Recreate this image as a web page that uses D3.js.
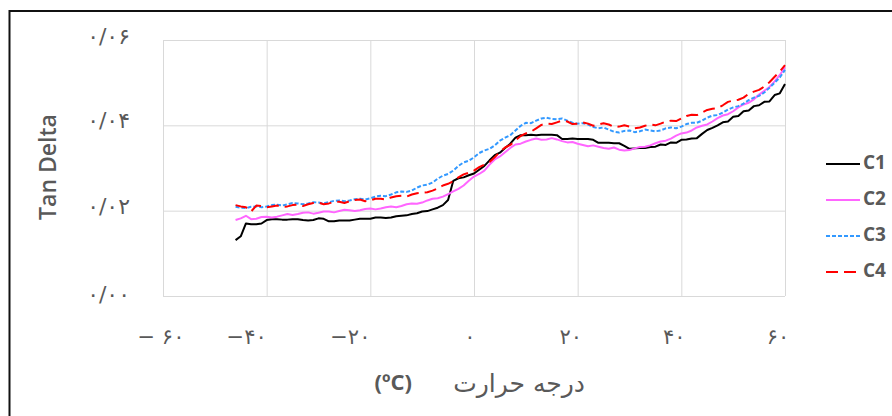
<!DOCTYPE html>
<html><head><meta charset="utf-8">
<script src="https://cdn.jsdelivr.net/npm/d3@7/dist/d3.min.js"></script>
<style>
html,body{margin:0;padding:0;background:#fff;}
svg{display:block;}
</style></head>
<body>
<svg id="chart" width="892" height="416"></svg>
<script>
// ---- data ----
const temps = [
 -46,-45,-44,-43,-42,-41,-40,-39,-38,-37,
 -36,-35,-34,-33,-32,-31,-30,-29,-28,-27,
 -26,-25,-24,-23,-22,-21,-20,-19,-18,-17,
 -16,-15,-14,-13,-12,-11,-10,-9,-8,-7,
 -6,-5,-4,-3,-2,-1,0,1,2,3,
 4,5,6,7,8,9,10,11,12,13,
 14,15,16,17,18,19,20,21,22,23,
 24,25,26,27,28,29,30,31,32,33,
 34,35,36,37,38,39,40,41,42,43,
 44,45,46,47,48,49,50,51,52,53,
 54,55,56,57,58,59,60];
const c1 = [
 0.0131,0.0140,0.0170,0.0168,0.0168,0.0170,0.0178,0.0180,0.0180,0.0179,
 0.0179,0.0180,0.0180,0.0178,0.0177,0.0178,0.0182,0.0181,0.0175,0.0175,
 0.0177,0.0177,0.0177,0.0179,0.0181,0.0181,0.0181,0.0184,0.0184,0.0183,
 0.0184,0.0187,0.0188,0.0189,0.0192,0.0194,0.0198,0.0199,0.0203,0.0207,
 0.0213,0.0225,0.0270,0.0276,0.0278,0.0283,0.0287,0.0296,0.0305,0.0318,
 0.0330,0.0336,0.0347,0.0357,0.0371,0.0377,0.0377,0.0378,0.0377,0.0378,
 0.0378,0.0378,0.0377,0.0368,0.0368,0.0369,0.0368,0.0368,0.0368,0.0366,
 0.0359,0.0359,0.0359,0.0358,0.0358,0.0352,0.0345,0.0346,0.0347,0.0347,
 0.0349,0.0350,0.0355,0.0354,0.0360,0.0359,0.0366,0.0367,0.0369,0.0370,
 0.0380,0.0389,0.0394,0.0400,0.0407,0.0409,0.0420,0.0422,0.0433,0.0435,
 0.0445,0.0447,0.0455,0.0456,0.0471,0.0475,0.0497];
const c2 = [
 0.0178,0.0182,0.0188,0.0180,0.0181,0.0185,0.0186,0.0184,0.0186,0.0189,
 0.0192,0.0190,0.0192,0.0195,0.0196,0.0193,0.0195,0.0198,0.0198,0.0196,
 0.0199,0.0202,0.0201,0.0199,0.0201,0.0204,0.0205,0.0203,0.0205,0.0208,
 0.0210,0.0208,0.0211,0.0215,0.0217,0.0216,0.0219,0.0224,0.0228,0.0229,
 0.0233,0.0239,0.0245,0.0251,0.0259,0.0270,0.0280,0.0286,0.0294,0.0308,
 0.0320,0.0327,0.0337,0.0347,0.0355,0.0357,0.0362,0.0366,0.0369,0.0366,
 0.0367,0.0370,0.0367,0.0363,0.0360,0.0361,0.0357,0.0354,0.0351,0.0353,
 0.0350,0.0347,0.0345,0.0348,0.0343,0.0341,0.0342,0.0346,0.0349,0.0350,
 0.0353,0.0358,0.0362,0.0364,0.0369,0.0376,0.0381,0.0383,0.0388,0.0395,
 0.0399,0.0402,0.0409,0.0417,0.0423,0.0426,0.0433,0.0442,0.0449,0.0453,
 0.0461,0.0472,0.0481,0.0490,0.0503,0.0518,0.0536];
const c3 = [
 0.0209,0.0207,0.0206,0.0209,0.0210,0.0208,0.0210,0.0213,0.0214,0.0212,
 0.0215,0.0218,0.0217,0.0215,0.0217,0.0220,0.0219,0.0217,0.0220,0.0223,
 0.0224,0.0222,0.0224,0.0227,0.0228,0.0226,0.0229,0.0233,0.0235,0.0234,
 0.0238,0.0243,0.0245,0.0244,0.0247,0.0254,0.0259,0.0261,0.0266,0.0275,
 0.0282,0.0286,0.0294,0.0305,0.0313,0.0317,0.0325,0.0335,0.0341,0.0345,
 0.0353,0.0364,0.0371,0.0377,0.0388,0.0399,0.0406,0.0405,0.0411,0.0416,
 0.0418,0.0415,0.0414,0.0416,0.0411,0.0406,0.0404,0.0405,0.0402,0.0396,
 0.0393,0.0395,0.0390,0.0385,0.0383,0.0387,0.0388,0.0384,0.0386,0.0390,
 0.0388,0.0386,0.0388,0.0393,0.0395,0.0393,0.0397,0.0403,0.0406,0.0406,
 0.0411,0.0418,0.0423,0.0424,0.0430,0.0437,0.0442,0.0445,0.0451,0.0459,
 0.0465,0.0469,0.0477,0.0488,0.0500,0.0512,0.0530];
const c4 = [
 0.0213,0.0210,0.0208,0.0198,0.0212,0.0211,0.0208,0.0210,0.0212,0.0209,
 0.0210,0.0213,0.0214,0.0211,0.0215,0.0218,0.0219,0.0215,0.0217,0.0221,
 0.0221,0.0218,0.0222,0.0225,0.0226,0.0222,0.0224,0.0228,0.0228,0.0226,
 0.0231,0.0234,0.0235,0.0233,0.0238,0.0241,0.0242,0.0243,0.0247,0.0252,
 0.0259,0.0263,0.0269,0.0278,0.0285,0.0289,0.0294,0.0302,0.0308,0.0314,
 0.0325,0.0338,0.0348,0.0354,0.0365,0.0375,0.0381,0.0385,0.0393,0.0401,
 0.0404,0.0403,0.0407,0.0411,0.0409,0.0403,0.0404,0.0407,0.0404,0.0399,
 0.0402,0.0405,0.0402,0.0396,0.0397,0.0400,0.0397,0.0393,0.0395,0.0399,
 0.0402,0.0400,0.0404,0.0409,0.0411,0.0410,0.0416,0.0422,0.0425,0.0424,
 0.0430,0.0436,0.0439,0.0440,0.0447,0.0455,0.0458,0.0460,0.0465,0.0474,
 0.0479,0.0483,0.0491,0.0501,0.0514,0.0526,0.0541];
const seriesNames = ["C1","C2","C3","C4"];
const xTicks = [-60,-40,-20,0,20,40,60];
const xTickLabels = ["\u2212 ۶۰","\u2212۴۰","\u2212۲۰","۰","۲۰","۴۰","۶۰"];
const yTicks = [0,0.02,0.04,0.06];
const yTickLabels = ["۰/۰۰","۰/۰۲","۰/۰۴","۰/۰۶"];
const xTitle = "درجه حرارت";
const xUnit = "(ºC)";
const yTitle = "Tan Delta";

// ---- styles ----
const styles = {
  C1:{color:"#000000", dash:null, width:2},
  C2:{color:"#ff66ff", dash:null, width:2},
  C3:{color:"#3399ff", dash:"4,2", width:2},
  C4:{color:"#ff0000", dash:"12,6", width:2}
};
const textColor = "#595959";

const svg = d3.select("#chart");
const x = d3.scaleLinear().domain([-60,60]).range([163,785]);
const y = d3.scaleLinear().domain([0,0.06]).range([296,40]);

// outer border (clipped on right/bottom)
svg.append("path").attr("d","M9.5,420 L9.5,11 L900,11")
  .attr("fill","none").attr("stroke","#111").attr("stroke-width",2);

// gridlines via axes
const gx = svg.append("g").attr("transform","translate(0,296)")
  .call(d3.axisBottom(x).tickValues(xTicks).tickSize(-256).tickFormat(""));
const gy = svg.append("g").attr("transform","translate(163,0)")
  .call(d3.axisLeft(y).tickValues(yTicks).tickSize(-622).tickFormat(""));
[gx,gy].forEach(g=>{
  g.select(".domain").remove();
  g.selectAll(".tick line").attr("stroke","#d9d9d9").attr("stroke-width",1);
});

// y tick labels
svg.append("g").selectAll("text").data(yTicks).join("text")
  .attr("x",130).attr("y",d=>y(d)+(d===0.06?-2:(d===0?0:-3)))
  .attr("text-anchor","end").attr("dominant-baseline","middle")
  .attr("font-family","DejaVu Sans, sans-serif").attr("font-size",22)
  .attr("letter-spacing",1)
  .attr("fill",textColor)
  .text((d,i)=>yTickLabels[i]);

// x tick labels
function xShift(d){ if(d===-60) return -2; if(d<0) return -20; if(d===0) return -4; return -7; }
svg.append("g").selectAll("text").data(xTicks).join("text")
  .attr("x",d=>x(d)+xShift(d)).attr("y",338)
  .attr("text-anchor","middle").attr("dominant-baseline","middle")
  .attr("font-family","DejaVu Sans, sans-serif").attr("font-size",21)
  .attr("letter-spacing",1)
  .attr("fill",textColor)
  .text((d,i)=>xTickLabels[i]);

// series
const series = [c1,c2,c3,c4];
const line = d3.line().x((d,i)=>x(temps[i])).y(d=>y(d));
series.forEach((vals,k)=>{
  const st = styles[seriesNames[k]];
  svg.append("path").datum(vals).attr("d",line)
    .attr("fill","none").attr("stroke",st.color).attr("stroke-width",st.width)
    .attr("stroke-dasharray",st.dash).attr("stroke-linejoin","round");
});

// legend
const lg = svg.append("g");
seriesNames.forEach((n,k)=>{
  const st = styles[n];
  const yy = 164 + k*36;
  lg.append("line").attr("x1",826).attr("x2",860).attr("y1",yy).attr("y2",yy)
    .attr("stroke",st.color).attr("stroke-width",st.width).attr("stroke-dasharray",st.dash);
  lg.append("text").attr("x",863).attr("y",yy).attr("dominant-baseline","middle")
    .attr("font-family","Open Sans, sans-serif").attr("font-weight",700).attr("font-size",19)
    .attr("fill",textColor).text(n);
});

// y title
svg.append("text").attr("transform","translate(56,167) rotate(-90)")
  .attr("text-anchor","middle")
  .attr("font-family","Open Sans, sans-serif").attr("font-weight",600).attr("font-size",23)
  .attr("fill",textColor).text(yTitle);

// x title
svg.append("text").attr("x",585).attr("y",385)
  .attr("text-anchor","end").attr("dominant-baseline","middle")
  .attr("font-family","DejaVu Sans, sans-serif").attr("font-size",25)
  .attr("fill",textColor).text(xTitle);
svg.append("text").attr("x",412).attr("y",384)
  .attr("text-anchor","end").attr("dominant-baseline","middle")
  .attr("font-family","Open Sans, sans-serif").attr("font-weight",700).attr("font-size",22)
  .attr("fill",textColor).text(xUnit);
</script>
</body></html>
